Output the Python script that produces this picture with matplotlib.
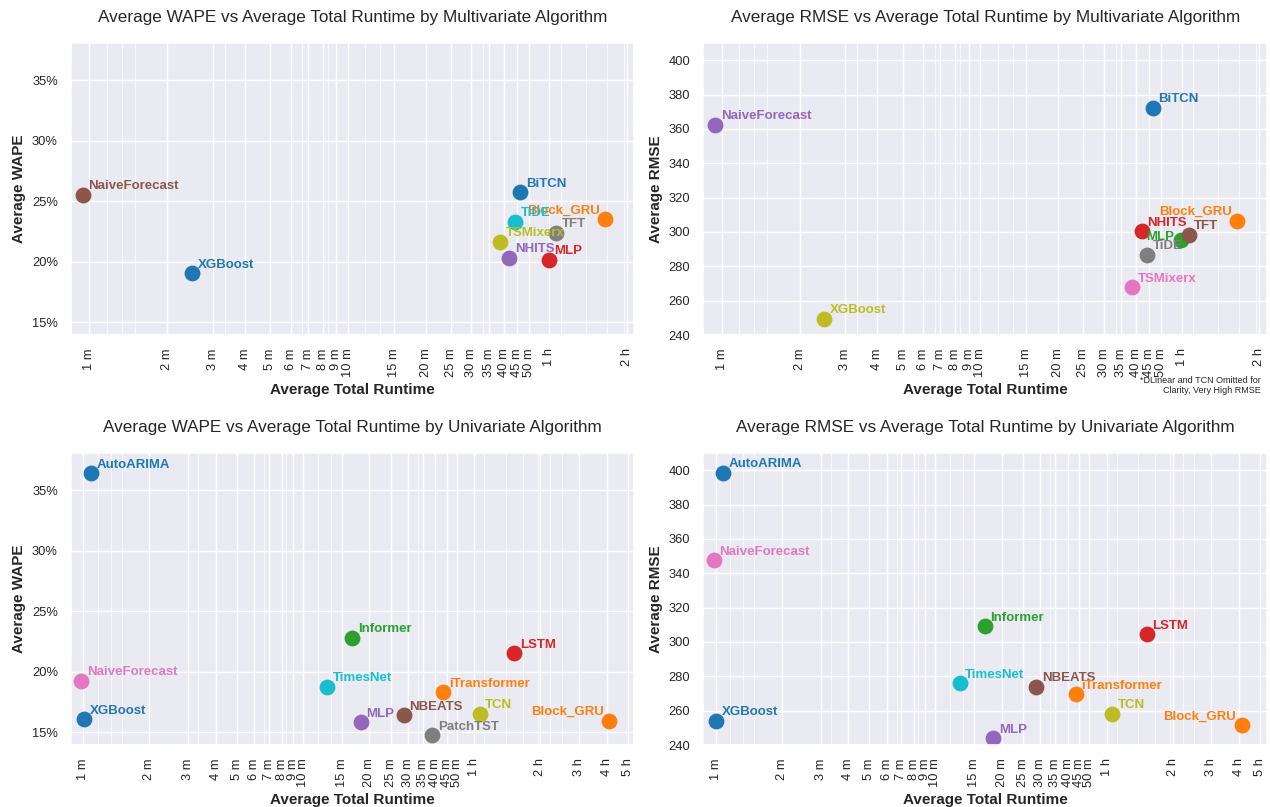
import numpy as np
import matplotlib
matplotlib.use("Agg")
import matplotlib.pyplot as plt
import seaborn as sns
from matplotlib.ticker import PercentFormatter, NullFormatter

# multivariate runs (runtime in seconds)
mv_names = ["NaiveForecast", "XGBoost", "BiTCN", "TiDE", "Block_GRU", "TFT", "TSMixerx", "NHITS", "MLP"]
mv_runtime = [56.6, 149.5, 2780, 2652, 5920, 3840, 2324, 2527, 3590]
mv_wape = [0.2553, 0.1903, 0.2574, 0.2327, 0.2351, 0.2239, 0.2165, 0.2032, 0.2014]
mv_rmse = [362.5, 249.5, 372.4, 286.6, 306.6, 298.4, 267.7, 300.3, 295.5]
mv_omitted = ["DLinear", "TCN"]  # off the chart, still take a colour slot in the WAPE plot

# univariate runs
uv_names = ["AutoARIMA", "XGBoost", "NaiveForecast", "Informer", "TimesNet", "MLP",
            "NBEATS", "PatchTST", "iTransformer", "TCN", "LSTM", "Block_GRU"]
uv_runtime = [65, 60.5, 58.7, 1006, 774, 1099, 1722, 2322, 2605, 3815, 5480, 14840]
uv_wape = [0.3640, 0.1605, 0.1926, 0.2277, 0.1876, 0.1580, 0.1638, 0.1475, 0.1829, 0.1652, 0.2152, 0.1594]
uv_rmse = [398.6, 254.0, 347.6, 309.0, 275.9, 243.9, 274.0, np.nan, 269.5, 258.2, 304.5, 251.4]

tick_secs = [60, 120, 180, 240, 300, 360, 420, 480, 540, 600, 900, 1200, 1500, 1800,
             2100, 2400, 2700, 3000, 3600, 7200, 10800, 14400, 18000]
tick_text = ["1 m", "2 m", "3 m", "4 m", "5 m", "6 m", "7 m", "8 m", "9 m", "10 m", "15 m",
             "20 m", "25 m", "30 m", "35 m", "40 m", "45 m", "50 m", "1 h", "2 h", "3 h", "4 h", "5 h"]

sns.set_theme(style="darkgrid")
plt.rcParams["font.family"] = ["Liberation Sans", "DejaVu Sans"]
plt.rcParams["xtick.labelsize"] = 9.3
plt.rcParams["ytick.labelsize"] = 9.3
palette = sns.color_palette("tab10")


def draw(ax, names, runtime, metric, order, title, ylabel, ylim, left_labels=()):
    runtime = np.array(runtime, dtype=float)
    metric = np.array(metric, dtype=float)
    keep = ~np.isnan(metric)
    xmax = runtime[keep].max()
    for i in sorted(range(len(names)), key=lambda k: names[k]):
        n, x, y = names[i], runtime[i], metric[i]
        if np.isnan(y):
            continue
        c = palette[order.index(n) % 10]
        ax.scatter(x, y, s=130, color=c, linewidth=0, zorder=2)
        if x == xmax:
            ax.annotate(n, (x, y), xytext=(-4, 4), textcoords="offset points",
                        ha="right", va="baseline", color=c, fontsize=9.5, fontweight="bold")
        elif n in left_labels:
            ax.annotate(n, (x, y), xytext=(-5, 0), textcoords="offset points",
                        ha="right", va="baseline", color=c, fontsize=9.5, fontweight="bold")
        else:
            ax.annotate(n, (x, y), xytext=(4, 4), textcoords="offset points",
                        ha="left", va="baseline", color=c, fontsize=9.5, fontweight="bold")
    ax.set_xscale("log")
    lo, hi = runtime[keep].min() * 0.9, xmax * 1.3
    ax.set_xlim(lo, hi)
    ticks = [(t, l) for t, l in zip(tick_secs, tick_text) if lo <= t <= hi]
    ax.set_xticks([t for t, l in ticks])
    ax.set_xticklabels([l for t, l in ticks], rotation=90)
    ax.xaxis.set_minor_formatter(NullFormatter())
    ax.grid(True, which="minor", axis="x", color="white", linewidth=0.5)
    ax.set_ylim(*ylim)
    ax.set_title(title, fontsize=12.3, pad=15)
    ax.set_xlabel("Average Total Runtime", fontweight="bold", fontsize=11)
    ax.set_ylabel(ylabel, fontweight="bold", fontsize=11)


fig, axs = plt.subplots(2, 2, figsize=(12.7, 8.07), dpi=100)
fig.subplots_adjust(left=0.056, right=0.9975, top=0.9467, bottom=0.0768, hspace=0.404, wspace=0.1225)

mv_wape_order = sorted(mv_names + mv_omitted)
uv_order = sorted(uv_names)

draw(axs[0, 0], mv_names, mv_runtime, mv_wape, mv_wape_order,
     "Average WAPE vs Average Total Runtime by Multivariate Algorithm", "Average WAPE", (0.1393, 0.3806))
axs[0, 0].set_yticks([0.15, 0.20, 0.25, 0.30, 0.35])
axs[0, 0].yaxis.set_major_formatter(PercentFormatter(1.0, decimals=0))

draw(axs[0, 1], mv_names, mv_runtime, mv_rmse, sorted(mv_names),
     "Average RMSE vs Average Total Runtime by Multivariate Algorithm", "Average RMSE", (240, 410),
     left_labels=("MLP",))
axs[0, 1].set_yticks(range(240, 401, 20))
axs[0, 1].text(0.99, -0.14, "*DLinear and TCN Omitted for\nClarity, Very High RMSE",
               transform=axs[0, 1].transAxes, ha="right", va="top", fontsize=6.5)

draw(axs[1, 0], uv_names, uv_runtime, uv_wape, uv_order,
     "Average WAPE vs Average Total Runtime by Univariate Algorithm", "Average WAPE", (0.1393, 0.3806))
axs[1, 0].set_yticks([0.15, 0.20, 0.25, 0.30, 0.35])
axs[1, 0].yaxis.set_major_formatter(PercentFormatter(1.0, decimals=0))

draw(axs[1, 1], uv_names, uv_runtime, uv_rmse, uv_order,
     "Average RMSE vs Average Total Runtime by Univariate Algorithm", "Average RMSE", (240, 410))
axs[1, 1].set_yticks(range(240, 401, 20))

fig.savefig("out.png")
